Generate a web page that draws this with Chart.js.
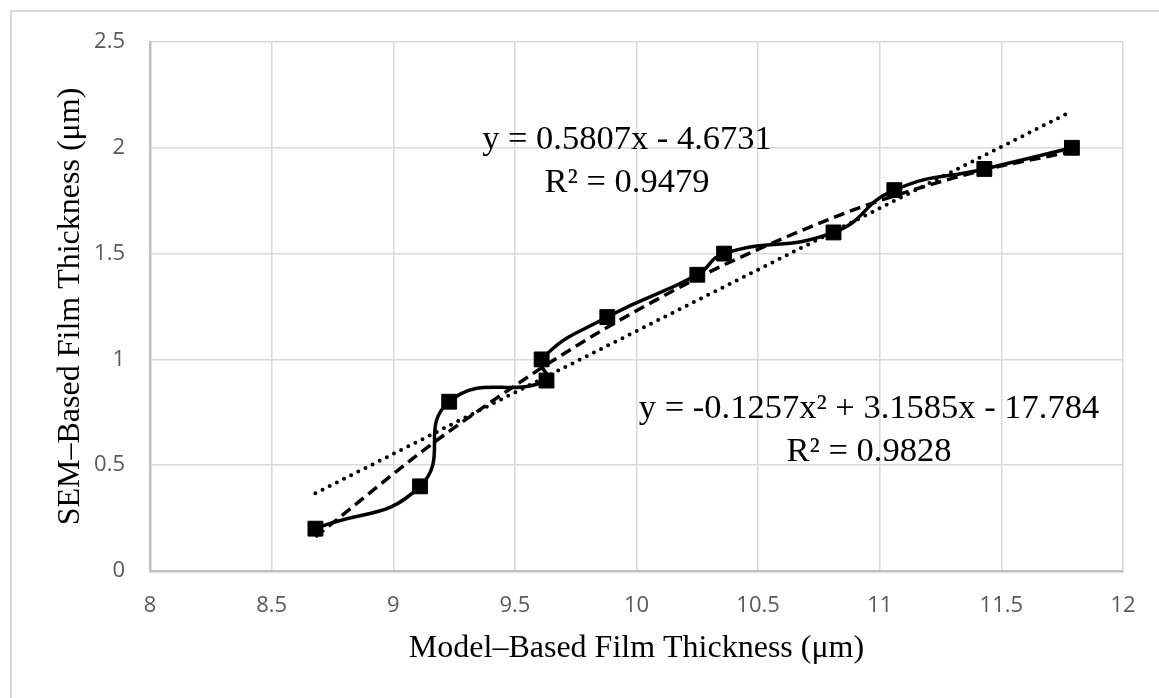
<!DOCTYPE html>
<html lang="en">
<head>
    <meta charset="UTF-8">
    <title>SEM vs Model Film Thickness</title>
    <script src="https://cdn.jsdelivr.net/npm/chart.js"></script>
    <style>
        body {
            margin: 0;
            background: #ffffff;
            overflow: hidden;
        }
        /* light frame round the chart, like the Excel chart border */
        #frame {
            position: absolute;
            left: 10px;
            top: 10px;
            width: 1300px;
            height: 800px;
            border-left: 2px solid #d9d9d9;
            border-top: 2px solid #d9d9d9;
        }
        #wrap {
            position: absolute;
            left: 0;
            top: 0;
            width: 1159px;
            height: 698px;
        }
    </style>
</head>
<body>
    <div id="frame"></div>
    <div id="wrap">
        <canvas id="chart" width="1159" height="698"></canvas>
    </div>

    <script>
        // measured points, in the order the series joins them (by SEM thickness)
        const modelX = [8.68, 9.11, 9.23, 9.63, 9.61, 9.88, 10.25, 10.36, 10.81, 11.06, 11.43, 11.79];
        const semY = [0.2, 0.4, 0.8, 0.9, 1.0, 1.2, 1.4, 1.5, 1.6, 1.8, 1.9, 2.0];

        // trendline coefficients as printed on the chart
        const linCoef = [0.5807, -4.6731];           // slope, intercept
        const polyCoef = [-0.1257, 3.1585, -17.784];  // x^2, x, const

        const linLabel = ['y = 0.5807x - 4.6731', 'R² = 0.9479'];
        const polyLabel = ['y = -0.1257x² + 3.1585x - 17.784', 'R² = 0.9828'];

        const xTitle = 'Model\u2013Based Film Thickness (\u03bcm)';
        const yTitle = 'SEM\u2013Based Film Thickness (\u03bcm)';

        // build points for the library
        const mainPts = modelX.map((x, i) => ({ x: x, y: semY[i] }));
        const sortedX = modelX.slice().sort((a, b) => a - b);
        const linEnds = [sortedX[0], sortedX[sortedX.length - 1]];
        const linPts = linEnds.map(x => ({ x: x, y: linCoef[0] * x + linCoef[1] }));
        const polyPts = sortedX.map(x => ({ x: x, y: polyCoef[0] * x * x + polyCoef[1] * x + polyCoef[2] }));

        // draws the two trendline equation boxes
        const eqLabels = {
            id: 'eqLabels',
            afterDatasetsDraw(chart) {
                const ctx = chart.ctx;
                ctx.save();
                ctx.fillStyle = '#000';
                ctx.font = '34.5px "Liberation Serif", "Times New Roman", serif';
                ctx.textAlign = 'center';
                ctx.textBaseline = 'alphabetic';
                ctx.fillText(linLabel[0], 627, 149);
                ctx.fillText(linLabel[1], 627, 192);
                ctx.fillText(polyLabel[0], 869, 418);
                ctx.fillText(polyLabel[1], 869, 461);
                ctx.restore();
            }
        };

        const ctx = document.getElementById('chart').getContext('2d');
        new Chart(ctx, {
            type: 'scatter',
            data: {
                datasets: [
                    {
                        data: mainPts,
                        showLine: true,
                        borderColor: '#000',
                        borderWidth: 3.5,
                        tension: 0.5,
                        pointStyle: 'rect',
                        pointRadius: 10.5,
                        pointBackgroundColor: '#000',
                        pointBorderColor: '#000',
                        pointBorderWidth: 1
                    },
                    {
                        data: polyPts,
                        showLine: true,
                        borderColor: '#000',
                        borderWidth: 3.5,
                        borderDash: [11, 6],
                        cubicInterpolationMode: 'monotone',
                        pointRadius: 0
                    },
                    {
                        data: linPts,
                        showLine: true,
                        borderColor: '#000',
                        borderWidth: 4,
                        borderDash: [0, 8],
                        borderCapStyle: 'round',
                        pointRadius: 0
                    }
                ]
            },
            options: {
                responsive: false,
                animation: false,
                layout: {
                    padding: { left: 0, top: 42, right: 36, bottom: 0 }
                },
                plugins: {
                    legend: { display: false },
                    tooltip: { enabled: false }
                },
                scales: {
                    x: {
                        type: 'linear',
                        min: 8,
                        max: 12,
                        afterFit(s) { s.height = 127; },
                        ticks: {
                            stepSize: 0.5,
                            padding: 22,
                            color: '#595959',
                            font: { family: '"Open Sans", sans-serif', size: 22 },
                            callback: v => String(+v.toFixed(2))
                        },
                        grid: { color: '#d9d9d9', lineWidth: 1.5, drawTicks: false },
                        border: { color: '#bfbfbf', width: 2.5 },
                        title: {
                            display: true,
                            text: xTitle,
                            color: '#000',
                            font: { family: '"Liberation Serif", serif', size: 32 },
                            padding: { top: 0, bottom: 30 }
                        }
                    },
                    y: {
                        type: 'linear',
                        min: 0,
                        max: 2.5,
                        afterFit(s) { s.width = 150; },
                        ticks: {
                            stepSize: 0.5,
                            padding: 25,
                            color: '#595959',
                            font: { family: '"Open Sans", sans-serif', size: 22 },
                            callback: v => String(+v.toFixed(2))
                        },
                        grid: { color: '#d9d9d9', lineWidth: 1.5, drawTicks: false },
                        border: { color: '#bfbfbf', width: 2.5 },
                        title: {
                            display: true,
                            text: yTitle,
                            color: '#000',
                            font: { family: '"Liberation Serif", serif', size: 32 },
                            padding: { top: 51, bottom: 0 }
                        }
                    }
                }
            },
            plugins: [eqLabels]
        });
    </script>
</body>
</html>
